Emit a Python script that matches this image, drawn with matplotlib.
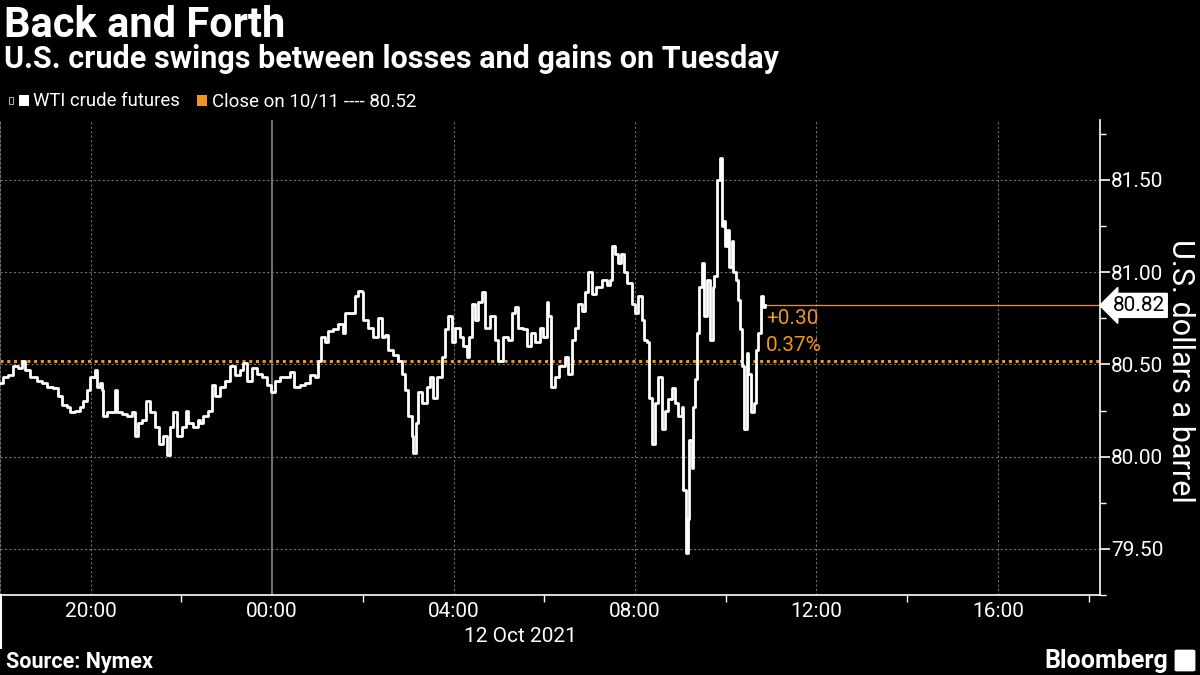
import matplotlib
matplotlib.use("Agg")

import matplotlib.pyplot as plt
import matplotlib.dates as mdates
import pandas as pd
from matplotlib.ticker import MultipleLocator, FormatStrFormatter
from matplotlib.patches import Rectangle, FancyBboxPatch
from matplotlib.lines import Line2D

plt.rcParams['font.family'] = ['Roboto', 'DejaVu Sans']

# WTI intraday, minutes after the 18:00 (ET) session open on 11 Oct 2021
session_open = pd.Timestamp("2021-10-11 18:00")
minutes = [0, 4, 11, 17, 24, 29, 33, 40, 49, 56, 62, 70, 77, 82, 89, 93, 99, 106, 110, 115,
           119, 126, 128, 132, 135, 136, 141, 148, 152, 155, 161, 168, 175, 179, 182, 188, 193, 198, 205, 210,
           216, 221, 225, 229, 234, 241, 246, 249, 255, 262, 264, 268, 275, 280, 284, 291, 298, 304, 311, 317,
           321, 327, 333, 340, 346, 353, 358, 364, 370, 377, 383, 389, 397, 403, 410, 417, 420, 424, 430, 434,
           440, 447, 454, 456, 463, 469, 473, 479, 480, 487, 493, 500, 505, 509, 513, 520, 526, 532, 536, 540,
           545, 546, 550, 553, 558, 565, 569, 573, 578, 584, 588, 592, 598, 602, 608, 612, 618, 620, 624, 628,
           632, 637, 641, 648, 655, 659, 665, 672, 677, 681, 685, 692, 697, 703, 707, 714, 718, 723, 725, 729,
           734, 740, 747, 751, 756, 760, 764, 770, 774, 778, 783, 789, 796, 803, 807, 809, 813, 817, 822, 826,
           830, 836, 840, 844, 849, 852, 856, 858, 862, 866, 870, 875, 879, 883, 889, 893, 897, 902, 903, 907,
           910, 912, 915, 916, 919, 922, 924, 928, 931, 935, 939, 943, 945, 948, 952, 955, 956, 959, 961, 964,
           968, 969, 973, 976, 979, 981, 984, 988, 990, 994, 997, 1000, 1002, 1006, 1009, 1012]
prices = [80.40, 80.43, 80.44, 80.49, 80.48, 80.52, 80.47, 80.43, 80.41, 80.40, 80.38, 80.37, 80.33, 80.28, 80.27, 80.24, 80.25, 80.27, 80.30, 80.36,
          80.43, 80.47, 80.38, 80.40, 80.36, 80.22, 80.24, 80.24, 80.36, 80.24, 80.23, 80.22, 80.24, 80.11, 80.18, 80.20, 80.30, 80.24, 80.16, 80.07,
          80.11, 80.01, 80.16, 80.24, 80.11, 80.16, 80.25, 80.18, 80.16, 80.20, 80.18, 80.22, 80.25, 80.39, 80.33, 80.38, 80.41, 80.49, 80.44, 80.47,
          80.51, 80.41, 80.48, 80.45, 80.43, 80.39, 80.35, 80.41, 80.43, 80.43, 80.46, 80.38, 80.39, 80.40, 80.44, 80.43, 80.52, 80.65, 80.62, 80.68,
          80.69, 80.72, 80.67, 80.78, 80.78, 80.87, 80.90, 80.89, 80.74, 80.70, 80.65, 80.75, 80.65, 80.66, 80.58, 80.55, 80.52, 80.45, 80.36, 80.22,
          80.11, 80.02, 80.18, 80.35, 80.29, 80.38, 80.43, 80.32, 80.43, 80.54, 80.69, 80.76, 80.62, 80.70, 80.65, 80.60, 80.54, 80.65, 80.83, 80.74,
          80.84, 80.89, 80.70, 80.76, 80.63, 80.52, 80.65, 80.63, 80.78, 80.81, 80.70, 80.69, 80.60, 80.67, 80.62, 80.70, 80.65, 80.84, 80.76, 80.38,
          80.43, 80.49, 80.54, 80.45, 80.63, 80.70, 80.83, 80.79, 80.89, 81.00, 80.88, 80.92, 80.96, 80.93, 80.96, 81.14, 81.10, 81.05, 81.10, 81.00,
          80.94, 80.83, 80.78, 80.87, 80.74, 80.63, 80.62, 80.32, 80.07, 80.29, 80.43, 80.15, 80.25, 80.31, 80.37, 80.29, 80.22, 80.27, 79.82, 79.48,
          79.66, 80.09, 79.94, 80.27, 80.42, 80.67, 80.92, 81.05, 80.76, 80.96, 80.63, 80.92, 80.98, 81.50, 81.62, 81.25, 81.28, 81.14, 81.23, 81.03,
          81.17, 81.00, 80.96, 80.85, 80.69, 80.49, 80.15, 80.56, 80.45, 80.24, 80.29, 80.58, 80.67, 80.87, 80.81, 80.82]
prev_close = 80.52
change = "+0.30"
change_pct = "0.37%"

orange = '#f0951e'
grid_col = '#6e6e6e'

times = session_open + pd.to_timedelta(minutes, unit="min")
last_price = prices[-1]
x_end = session_open + pd.Timedelta(minutes=1455)
midnight = pd.Timestamp("2021-10-12 00:00")

fig = plt.figure(figsize=(12, 6.75), dpi=100, facecolor='black')
ax = fig.add_axes([0, 1 - 595/675, 1100/1200, 475/675])
ax.set_facecolor('black')

# grid first so the data sits on top
ax.grid(axis='both', which='major', color=grid_col, ls=(0, (2, 2)), lw=0.8)
ax.axvline(midnight, color='#8a8a8a', lw=1.2, zorder=1)

ax.axhline(prev_close, color=orange, ls=(0, (1, 1.2)), lw=2.2, zorder=2)
ax.step(times, prices, where='post', color='white', lw=2, zorder=3)
ax.plot([times[-1], x_end], [last_price, last_price], color=orange, lw=0.9, zorder=2)

ax.set_xlim(session_open, x_end)
ax.set_ylim(79.25, 81.825)

# y axis on the right
ax.yaxis.tick_right()
ax.yaxis.set_major_locator(MultipleLocator(0.5))
ax.yaxis.set_minor_locator(MultipleLocator(0.25))
ax.yaxis.set_major_formatter(FormatStrFormatter('%.2f'))
ax.tick_params(axis='y', which='major', colors='white', labelsize=15, length=7, width=1.2, pad=1)
ax.tick_params(axis='y', which='minor', colors='white', length=4, width=1)

ax.xaxis.set_major_locator(mdates.HourLocator(byhour=[0, 4, 8, 12, 16, 20]))
ax.xaxis.set_minor_locator(mdates.HourLocator(byhour=range(0, 24, 2)))
ax.xaxis.set_major_formatter(mdates.DateFormatter('%H:%M'))
ax.tick_params(axis='x', which='major', colors='white', labelsize=15, length=0, pad=5)
ax.tick_params(axis='x', which='minor', colors='white', length=5, width=1)

ax.spines['top'].set_visible(False)
ax.spines['left'].set_color(grid_col)
ax.spines['left'].set_linestyle((0, (2, 2)))
ax.spines['bottom'].set_color('white')
ax.spines['right'].set_color('white')
ax.spines['bottom'].set_linewidth(1.2)
ax.spines['right'].set_linewidth(1.2)

# change vs previous close
t_txt = times[-1] + pd.Timedelta(minutes=1)
ax.text(t_txt, 80.75, change, color=orange, fontsize=15, va='center', ha='left')
ax.text(t_txt, 80.605, change_pct, color=orange, fontsize=15, va='center', ha='left')

# last price tag
ax.annotate(f"{last_price:.2f}", xy=(1.0, last_price), xycoords=('axes fraction', 'data'),
            xytext=(9, 0), textcoords='offset points', ha='left', va='center',
            color='black', fontsize=15,
            bbox=dict(boxstyle='larrow,pad=0.12', fc='white', ec='white'))

fig.text(1181/1200, 1 - 371/675, "U.S. dollars a barrel", rotation=270,
         color='white', fontsize=22, va='center', ha='center')

# date under the time axis
fig.text(520/1200, 1 - 642/675, "12 Oct 2021", color='white', fontsize=15, ha='center', va='baseline')
fig.add_artist(Line2D([0.0008, 0.0008], [1 - 595/675, 1 - 648/675], color='white', lw=1.5))

# titles
fig.text(0.003, 1 - 37/675, "Back and Forth", color='white', fontsize=30, fontweight='bold', va='baseline')
fig.text(0.003, 1 - 68/675, "U.S. crude swings between losses and gains on Tuesday",
         color='white', fontsize=22, fontweight='bold', va='baseline')

# legend
fig.add_artist(Rectangle((19/1200, 1 - 106/675), 10/1200, 11/675, fc='white', ec='none'))
fig.add_artist(Rectangle((9/1200, 1 - 104/675), 4/1200, 7/675, fc='none', ec='#aaaaaa', lw=0.8))
fig.text(33/1200, 1 - 106/675, "WTI crude futures", color='white', fontsize=13.3, va='baseline')
fig.add_artist(Rectangle((197/1200, 1 - 106/675), 10/1200, 11/675, fc=orange, ec='none'))
fig.text(212/1200, 1 - 106/675, f"Close on 10/11 ---- {prev_close:.2f}", color='white', fontsize=13.5, va='baseline')

# footer
fig.text(0.005, 1 - 668/675, "Source: Nymex", color='white', fontsize=15.5, fontweight='bold', va='baseline')
fig.text(1168/1200, 1 - 668/675, "Bloomberg", color='white', fontsize=18, fontweight='bold', va='baseline', ha='right')
fig.add_artist(FancyBboxPatch((1177/1200, 1 - 670/675), 16/1200, 19/675,
                              boxstyle='round,pad=0.002', fc='white', ec='none'))

fig.savefig("out.png", dpi=100, facecolor='black')
